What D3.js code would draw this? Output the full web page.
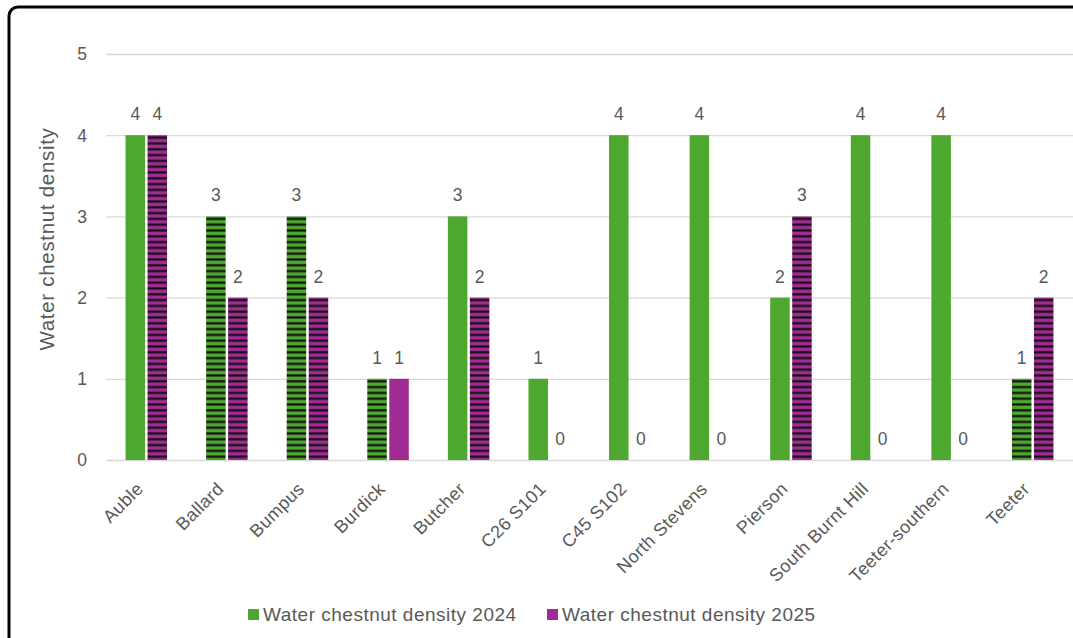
<!DOCTYPE html>
<html>
<head>
<meta charset="utf-8">
<script src="https://cdn.jsdelivr.net/npm/d3@7"></script>
<style>
  body { margin: 0; background: #fff; }
  svg { display: block; font-family: "Liberation Sans", Arial, sans-serif; }
</style>
</head>
<body>
<svg id="chart"></svg>
<script>
var W = 1073, H = 638;

var sites = ["Auble", "Ballard", "Bumpus", "Burdick", "Butcher", "C26 S101", "C45 S102",
  "North Stevens", "Pierson", "South Burnt Hill", "Teeter-southern", "Teeter"];
var density2024 = [4, 3, 3, 1, 3, 1, 4, 4, 2, 4, 4, 1];
var density2025 = [4, 2, 2, 1, 2, 0, 0, 0, 3, 0, 0, 2];
// which bars carry the striped fill
var striped2024 = [false, true, true, true, false, false, false, false, false, false, false, true];
var striped2025 = [true, true, true, false, true, false, false, false, true, false, false, true];
var seriesNames = ["Water chestnut density 2024", "Water chestnut density 2025"];
var yTicks = [0, 1, 2, 3, 4, 5];

var GREEN = "#4ea72e", PURPLE = "#a02b93", GRAY = "#595959";

var svg = d3.select("#chart").attr("width", W).attr("height", H);

// frame
svg.append("rect")
  .attr("x", 9).attr("y", 7)
  .attr("width", 1200).attr("height", 800)
  .attr("rx", 9)
  .attr("fill", "#fff")
  .attr("stroke", "#000")
  .attr("stroke-width", 3);

var defs = svg.append("defs");
function stripes(id, colour) {
  var p = defs.append("pattern")
    .attr("id", id)
    .attr("patternUnits", "userSpaceOnUse")
    .attr("width", 10).attr("height", 5.8);
  p.append("rect").attr("width", 10).attr("height", 5.8).attr("fill", colour);
  p.append("rect").attr("y", 3.2).attr("width", 10).attr("height", 2.2).attr("fill", "#111");
}
stripes("stripe-green", GREEN);
stripes("stripe-purple", PURPLE);

var x = d3.scaleBand().domain(sites).range([106, 1073]);
var y = d3.scaleLinear().domain([0, 5]).range([460, 54]);

// gridlines
svg.append("g").selectAll("line")
  .data(yTicks)
  .enter().append("line")
  .attr("x1", 106).attr("x2", W)
  .attr("y1", function(d) { return y(d) + 0.5; })
  .attr("y2", function(d) { return y(d) + 0.5; })
  .attr("stroke", "#d9d9d9")
  .attr("stroke-width", 1.3);

// y tick labels
svg.append("g").selectAll("text")
  .data(yTicks)
  .enter().append("text")
  .attr("x", 87)
  .attr("y", function(d) { return y(d); })
  .attr("dy", "0.36em")
  .attr("text-anchor", "end")
  .attr("fill", GRAY)
  .attr("font-size", 17.5)
  .text(function(d) { return d; });

// y title
svg.append("text")
  .attr("transform", "translate(54,239) rotate(-90)")
  .attr("text-anchor", "middle")
  .attr("fill", GRAY)
  .attr("font-size", 20.5)
  .attr("letter-spacing", 0.7)
  .text("Water chestnut density");

var barW = 19.5, gap = 2.5;
var series = [
  { vals: density2024, striped: striped2024, colour: GREEN, pat: "url(#stripe-green)", off: -gap / 2 - barW },
  { vals: density2025, striped: striped2025, colour: PURPLE, pat: "url(#stripe-purple)", off: gap / 2 }
];

series.forEach(function(s) {
  var g = svg.append("g");
  g.selectAll("rect")
    .data(sites)
    .enter().append("rect")
    .attr("x", function(d) { return x(d) + x.bandwidth() / 2 + s.off; })
    .attr("y", function(d, i) { return y(s.vals[i]); })
    .attr("width", barW)
    .attr("height", function(d, i) { return y(0) - y(s.vals[i]); })
    .attr("fill", function(d, i) { return s.striped[i] ? s.pat : s.colour; });

  g.selectAll("text")
    .data(sites)
    .enter().append("text")
    .attr("x", function(d) { return x(d) + x.bandwidth() / 2 + s.off + barW / 2; })
    .attr("y", function(d, i) { return y(s.vals[i]) - 15; })
    .attr("text-anchor", "middle")
    .attr("fill", GRAY)
    .attr("font-size", 17.5)
    .text(function(d, i) { return s.vals[i]; });
});

// x labels
svg.append("g").selectAll("text")
  .data(sites)
  .enter().append("text")
  .attr("transform", function(d) {
    return "translate(" + (x(d) + x.bandwidth() / 2 - 2) + ",490) rotate(-45)";
  })
  .attr("text-anchor", "end")
  .attr("fill", GRAY)
  .attr("font-size", 18)
  .attr("letter-spacing", 0.4)
  .text(function(d) { return d; });

// legend
var legX = [248, 547];
var leg = svg.append("g").selectAll("g")
  .data(seriesNames)
  .enter().append("g")
  .attr("transform", function(d, i) { return "translate(" + legX[i] + ",609)"; });
leg.append("rect")
  .attr("width", 11).attr("height", 11)
  .attr("fill", function(d, i) { return i === 0 ? GREEN : PURPLE; });
leg.append("text")
  .attr("x", 15).attr("y", 5.5)
  .attr("dy", "0.36em")
  .attr("fill", GRAY)
  .attr("font-size", 19)
  .attr("letter-spacing", 0.5)
  .text(function(d) { return d; });
</script>
</body>
</html>
